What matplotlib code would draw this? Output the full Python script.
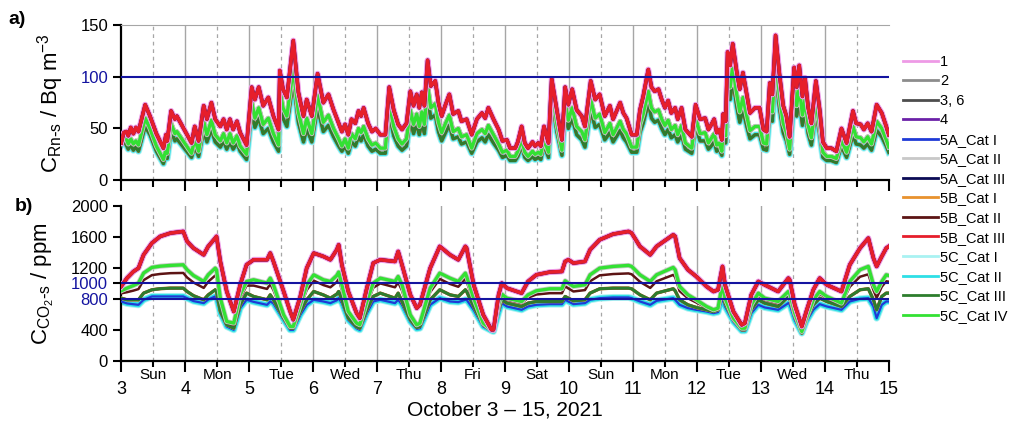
import numpy as np
import matplotlib.pyplot as plt
from matplotlib.lines import Line2D

plt.rcParams['font.family'] = ['Liberation Sans', 'DejaVu Sans']

# ---- panel a: radon, read per day (day-of-October, Bq m-3) ----
rn_day = [3.00, 3.04, 3.08, 3.11, 3.15, 3.19, 3.23, 3.27, 3.375, 3.45, 3.55, 3.66, 3.70, 3.72, 3.78, 3.84, 3.87,
          4.10, 4.15, 4.21, 4.29, 4.34, 4.41, 4.47, 4.55, 4.60, 4.65, 4.70, 4.75, 4.81, 4.86, 4.96,
          5.04, 5.09, 5.15, 5.22, 5.30, 5.38, 5.46, 5.48, 5.53, 5.59, 5.69, 5.77, 5.85, 5.90, 5.98,
          6.07, 6.16, 6.24, 6.32, 6.40, 6.45, 6.50, 6.55, 6.60, 6.66, 6.71, 6.75, 6.79, 6.86, 6.92, 6.98,
          7.05, 7.13, 7.19, 7.26, 7.33, 7.39, 7.46, 7.52, 7.57, 7.62, 7.66, 7.70, 7.74, 7.79, 7.84, 7.91, 7.96,
          8.01, 8.07, 8.13, 8.19, 8.27, 8.32, 8.40, 8.48, 8.56, 8.64, 8.69, 8.74, 8.82, 8.90, 8.96,
          9.03, 9.08, 9.16, 9.20, 9.26, 9.31, 9.36, 9.43, 9.47, 9.52, 9.56, 9.61, 9.68, 9.73, 9.81, 9.89, 9.94, 9.99,
          10.05, 10.12, 10.20, 10.25, 10.34, 10.41, 10.48, 10.56, 10.64, 10.69, 10.80, 10.85, 10.90, 10.98,
          11.06, 11.11, 11.16, 11.24, 11.29, 11.34, 11.40, 11.45, 11.50, 11.55, 11.60, 11.66, 11.70, 11.76, 11.82, 11.92, 11.98,
          12.05, 12.13, 12.18, 12.21, 12.27, 12.31, 12.35, 12.39, 12.41, 12.45, 12.48, 12.52, 12.56, 12.62, 12.67, 12.72, 12.78, 12.83, 12.91, 12.98,
          13.04, 13.09, 13.14, 13.18, 13.23, 13.29, 13.35, 13.40, 13.45, 13.52, 13.56, 13.60, 13.65, 13.69, 13.74, 13.79, 13.86, 13.92, 13.97,
          14.03, 14.10, 14.18, 14.26, 14.34, 14.44, 14.49, 14.56, 14.61, 14.67, 14.73, 14.81, 14.89, 14.96, 15.00]
rn_top = [36, 46, 47, 43, 51, 45, 51, 47, 73, 62, 45, 31, 44, 38, 67, 59, 62,
          36, 52, 38, 72, 59, 75, 59, 52, 59, 49, 59, 49, 57, 46, 34,
          90, 78, 90, 72, 80, 62, 49, 106, 88, 80, 135, 85, 62, 78, 62,
          103, 75, 83, 68, 55, 47, 54, 44, 59, 55, 67, 62, 70, 55, 47, 50,
          44, 44, 90, 68, 54, 49, 55, 86, 72, 83, 70, 85, 72, 116, 91, 96, 75,
          62, 73, 83, 64, 67, 57, 59, 44, 59, 65, 60, 70, 59, 49, 38,
          39, 31, 31, 37, 52, 36, 31, 37, 33, 36, 33, 52, 36, 98, 68, 39, 90, 73,
          88, 68, 62, 52, 96, 78, 83, 62, 72, 59, 75, 65, 60, 44,
          44, 68, 81, 107, 90, 86, 88, 78, 70, 77, 65, 70, 59, 70, 49, 42, 73,
          59, 60, 49, 52, 59, 46, 49, 39, 64, 57, 124, 111, 132, 106, 88, 104, 83, 65, 70, 70,
          49, 47, 94, 83, 140, 103, 72, 62, 42, 109, 90, 111, 81, 99, 70, 55, 96, 68, 37,
          31, 31, 28, 50, 36, 67, 55, 54, 49, 55, 47, 73, 65, 52, 44]
rn_mid = [36, 42, 40, 35, 40, 35, 38, 34, 60, 50, 33, 20, 30, 26, 55, 45, 47,
          26, 40, 28, 57, 44, 58, 44, 38, 45, 36, 45, 36, 43, 33, 25,
          76, 60, 70, 54, 60, 45, 34, 88, 70, 62, 108, 66, 45, 60, 45,
          82, 56, 63, 50, 40, 33, 40, 31, 45, 40, 50, 46, 52, 40, 34, 36,
          31, 31, 75, 52, 40, 35, 40, 68, 54, 64, 52, 66, 54, 92, 70, 74, 56,
          46, 55, 63, 47, 50, 42, 44, 31, 45, 49, 45, 53, 44, 35, 27,
          29, 23, 23, 28, 40, 27, 23, 28, 25, 27, 25, 40, 27, 90, 55, 29, 75, 58,
          70, 52, 47, 39, 78, 60, 64, 46, 55, 44, 57, 49, 45, 32,
          32, 54, 64, 86, 70, 66, 68, 59, 53, 58, 49, 53, 44, 53, 36, 31, 60,
          45, 46, 36, 39, 45, 34, 36, 28, 50, 43, 108, 90, 110, 84, 66, 80, 62, 48, 52, 52,
          36, 35, 76, 66, 118, 82, 55, 46, 30, 92, 72, 90, 63, 78, 53, 41, 76, 52, 27,
          23, 23, 21, 39, 27, 52, 42, 41, 37, 42, 35, 57, 50, 39, 32]
rn_low = [34, 38, 34, 30, 34, 29, 32, 28, 52, 44, 28, 16, 25, 21, 48, 38, 40,
          22, 33, 23, 48, 37, 49, 37, 32, 38, 30, 37, 30, 36, 28, 20,
          66, 51, 60, 45, 50, 37, 28, 78, 60, 52, 96, 56, 37, 50, 37,
          70, 47, 53, 42, 33, 28, 33, 26, 37, 33, 42, 38, 44, 33, 28, 30,
          26, 26, 65, 43, 33, 29, 33, 58, 45, 54, 44, 56, 45, 80, 60, 63, 47,
          38, 46, 53, 40, 42, 35, 37, 26, 37, 41, 37, 44, 36, 29, 22,
          24, 19, 19, 23, 33, 22, 19, 23, 20, 22, 20, 34, 22, 80, 47, 24, 66, 50,
          60, 44, 39, 32, 68, 51, 54, 39, 46, 37, 48, 41, 37, 27,
          27, 46, 55, 75, 60, 56, 58, 50, 44, 49, 41, 44, 37, 44, 30, 26, 52,
          38, 38, 30, 32, 37, 28, 30, 24, 42, 36, 95, 78, 98, 72, 56, 68, 52, 40, 44, 44,
          30, 29, 66, 57, 104, 70, 46, 38, 25, 80, 62, 78, 53, 67, 45, 34, 66, 44, 22,
          19, 19, 17, 33, 22, 44, 35, 34, 31, 35, 29, 48, 42, 33, 27]

# ---- panel b: CO2 (ppm) ----
co2_day = [3.00, 3.09, 3.19, 3.27, 3.35, 3.48, 3.61, 3.77, 3.97,
           4.03, 4.13, 4.29, 4.36, 4.47, 4.49, 4.55, 4.65, 4.76, 4.86, 4.96,
           5.07, 5.28, 5.33, 5.38, 5.54, 5.64, 5.69, 5.80, 5.90,
           6.01, 6.16, 6.27, 6.37, 6.40, 6.45, 6.55, 6.68, 6.73, 6.84, 6.94,
           7.05, 7.28, 7.33, 7.39, 7.52, 7.62, 7.67, 7.83, 7.98,
           8.14, 8.27, 8.38, 8.40, 8.51, 8.66, 8.79, 8.82, 8.90, 8.95,
           9.03, 9.26, 9.36, 9.49, 9.70, 9.89, 9.94, 9.99,
           10.07, 10.25, 10.33, 10.48, 10.69, 10.93, 10.98,
           11.11, 11.27, 11.37, 11.63, 11.66, 11.73, 11.86, 11.99,
           12.15, 12.26, 12.33, 12.40, 12.44, 12.57, 12.70, 12.75, 12.85, 12.96,
           13.06, 13.27, 13.43, 13.45, 13.53, 13.64, 13.71, 13.82, 13.92,
           14.03, 14.26, 14.39, 14.55, 14.68, 14.76, 14.81, 14.89, 14.96, 15.00]
co2_top = [960, 1066, 1150, 1195, 1367, 1518, 1604, 1647, 1668,
           1540, 1453, 1367, 1475, 1582, 1604, 1281, 894, 636, 980, 1238,
           1303, 1303, 1389, 1281, 894, 640, 530, 830, 1195,
           1389, 1346, 1303, 1432, 1496, 1238, 894, 615, 550, 937, 1260,
           1303, 1281, 1410, 1238, 851, 679, 722, 1195, 1475,
           1367, 1303, 1475, 1453, 980, 593, 400, 400, 851, 1002,
           937, 873, 1023, 1109, 1144, 1152, 1281, 1303,
           1260, 1281, 1432, 1561, 1634, 1668, 1647,
           1475, 1367, 1475, 1625, 1604, 1324, 1174, 1088,
           959, 894, 916, 1217, 980, 636, 464, 486, 851, 1023,
           980, 894, 1066, 1045, 722, 443, 636, 916, 1066,
           980, 894, 1238, 1453, 1582, 1324, 1217, 1346, 1453, 1475]
co2_mid = [903, 937, 970, 1002, 1131, 1204, 1220, 1230, 1238,
           1174, 1100, 1023, 1109, 1195, 1174, 808, 507, 486, 851, 1023,
           1045, 1002, 1066, 980, 593, 443, 443, 722, 980,
           1109, 1045, 1023, 1100, 1144, 980, 636, 486, 464, 765, 1002,
           1066, 1023, 1088, 980, 593, 464, 486, 937, 1131,
           1066, 1023, 1131, 1088, 808, 486, 400, 387, 722, 860,
           808, 765, 851, 903, 929, 929, 1032, 1002,
           959, 980, 1109, 1195, 1217, 1230, 1217,
           1109, 1023, 1109, 1204, 1174, 959, 851, 787,
           701, 658, 679, 1002, 808, 550, 421, 421, 722, 873,
           808, 765, 894, 873, 615, 378, 550, 787, 894,
           830, 744, 1023, 1174, 1217, 980, 894, 1023, 1109, 1100]
co2_brown = [870, 885, 905, 925, 1040, 1105, 1120, 1130, 1133,
             1075, 1010, 940, 1020, 1100, 1075, 750, 492, 463, 806, 970,
             970, 927, 990, 912, 578, 435, 435, 692, 912,
             1034, 977, 948, 1016, 1057, 912, 606, 470, 449, 728, 942,
             998, 948, 1013, 905, 571, 452, 471, 885, 1056,
             991, 955, 1056, 1020, 770, 478, 397, 387, 700, 834,
             786, 743, 814, 855, 872, 872, 961, 934,
             894, 912, 1026, 1102, 1119, 1127, 1116,
             1019, 940, 1026, 1108, 1079, 899, 806, 752,
             686, 650, 672, 964, 786, 543, 414, 414, 700, 843,
             786, 743, 872, 850, 600, 371, 543, 764, 864,
             807, 729, 955, 1084, 1116, 912, 811, 955, 1026, 1020]
co2_low = [808, 787, 787, 787, 873, 916, 930, 937, 937,
           894, 840, 787, 850, 916, 894, 636, 464, 421, 722, 873,
           830, 787, 851, 787, 550, 421, 421, 636, 787,
           894, 850, 808, 860, 894, 787, 550, 440, 421, 658, 830,
           873, 808, 873, 765, 529, 430, 443, 787, 916,
           851, 830, 916, 894, 701, 464, 391, 387, 658, 787,
           744, 701, 744, 765, 765, 765, 830, 808,
           774, 787, 873, 929, 937, 937, 929,
           851, 787, 873, 929, 903, 787, 722, 688,
           658, 636, 658, 894, 744, 529, 400, 400, 658, 787,
           744, 701, 830, 808, 572, 357, 529, 722, 808,
           765, 701, 830, 916, 929, 787, 658, 830, 873, 873]
co2_base = [765, 740, 730, 722, 787, 830, 830, 830, 830,
            808, 770, 744, 790, 830, 820, 615, 443, 400, 679, 787,
            760, 722, 765, 740, 529, 400, 400, 593, 722,
            787, 765, 744, 780, 808, 744, 529, 420, 400, 615, 765,
            787, 744, 787, 722, 507, 413, 421, 722, 808,
            765, 757, 787, 787, 658, 443, 387, 378, 615, 744,
            701, 658, 701, 722, 731, 731, 787, 765,
            731, 744, 787, 808, 817, 817, 808,
            765, 722, 774, 808, 787, 722, 679, 658,
            636, 615, 628, 808, 701, 507, 387, 387, 615, 722,
            688, 658, 744, 731, 529, 357, 507, 658, 731,
            701, 658, 765, 800, 808, 701, 550, 722, 765, 765]

days = list(range(3, 16))
weekdays = ['Sun', 'Mon', 'Tue', 'Wed', 'Thu', 'Fri', 'Sat',
            'Sun', 'Mon', 'Tue', 'Wed', 'Thu']

# legend order: label, colour, group, linewidth, zorder
series = [
    ('1',          '#ee9ae6', 'top',   4.2, 20),
    ('2',          '#8c8c8c', 'low',   2.3, 6),
    ('3, 6',       '#4d4d4d', 'low',   2.0, 8),
    ('4',          '#6b21a8', 'top',   2.4, 21),
    ('5A_Cat I',   '#1f3ad6', 'base',  1.6, 3),
    ('5A_Cat II',  '#c8c8c8', 'mid',   3.6, 12),
    ('5A_Cat III', '#0b0b55', 'top',   2.4, 22),
    ('5B_Cat I',   '#e8922e', 'low',   2.4, 7),
    ('5B_Cat II',  '#5c1414', 'brown', 1.8, 11),
    ('5B_Cat III', '#e61e2b', 'top',   2.6, 23),
    ('5C_Cat I',   '#a9f2f2', 'base',  5.0, 1),
    ('5C_Cat II',  '#2edfe6', 'base',  3.6, 2),
    ('5C_Cat III', '#2d7d2d', 'low',   2.0, 9),
    ('5C_Cat IV',  '#33e133', 'mid',   2.4, 14),
]

rn = {'top': rn_top, 'mid': rn_mid, 'brown': rn_mid, 'low': rn_low, 'base': rn_low}
co2 = {'top': co2_top, 'mid': co2_mid, 'brown': co2_brown, 'low': co2_low, 'base': co2_base}

fig = plt.figure(figsize=(10.1, 4.25), dpi=100)
ax_a = fig.add_axes([0.120, 0.576, 0.760, 0.365])
ax_b = fig.add_axes([0.120, 0.151, 0.760, 0.365])

for label, color, group, lw, z in series:
    # brown sits just under the green in panel a, so draw it a bit wider there
    lw_a = 3.2 if group == 'brown' else lw
    ax_a.plot(rn_day, rn[group], color=color, lw=lw_a, zorder=z, solid_joinstyle='round')
    ax_b.plot(co2_day, co2[group], color=color, lw=lw, zorder=z, solid_joinstyle='round')

handles = [Line2D([], [], color=c, lw=2.0) for _, c, _, _, _ in series]

ref_blue = '#1414a0'
ax_a.axhline(100, color=ref_blue, lw=1.5, zorder=25)
ax_b.axhline(1000, color=ref_blue, lw=1.5, zorder=25)
ax_b.axhline(800, color=ref_blue, lw=1.5, zorder=25)

for ax in (ax_a, ax_b):
    for d in days[1:-1]:
        ax.axvline(d, color='#a6a6a6', lw=1.0, zorder=0)
    for d in days[:-1]:
        ax.axvline(d + 0.5, color='#a6a6a6', lw=0.9, ls=(0, (3, 3)), zorder=0)
    ax.set_xlim(3, 15)
    ax.set_xticks(days)
    ax.set_xticks([d + 0.5 for d in days[:-1]], minor=True)
    ax.spines['right'].set_visible(False)
    ax.spines['left'].set_linewidth(1.6)
    ax.spines['bottom'].set_linewidth(1.6)
    ax.tick_params(axis='y', direction='out', length=6, width=1.5, labelsize=12)
    ax.tick_params(axis='x', which='both', direction='out', width=1.5)

ax_a.spines['top'].set_color('#a6a6a6')
ax_b.spines['top'].set_visible(False)

ax_a.set_ylim(0, 150)
ax_a.set_yticks([0, 50, 100, 150])
ax_a.tick_params(axis='x', which='major', length=8, labelbottom=False)
ax_a.tick_params(axis='x', which='minor', length=5, labelbottom=False)
ax_a.get_yticklabels()[2].set_color(ref_blue)

ax_b.set_ylim(0, 2000)
ax_b.set_yticks([0, 400, 800, 1000, 1200, 1600, 2000])
for t in ax_b.get_yticklabels():
    if t.get_text() in ('800', '1000'):
        t.set_color(ref_blue)
ax_b.set_xticklabels([str(d) for d in days])
ax_b.set_xticklabels(weekdays, minor=True)
ax_b.tick_params(axis='x', which='major', length=8, pad=6.5, labelsize=13)
ax_b.tick_params(axis='x', which='minor', length=4, pad=1, labelsize=11)

ax_a.set_ylabel(r'C$_{\mathregular{Rn\text{-}s}}$ / Bq m$^{\mathregular{-3}}$', fontsize=16)
ax_a.yaxis.set_label_coords(-0.072, 0.5)
ax_b.set_ylabel(r'C$_{\mathregular{CO_2\text{-}s}}$ / ppm', fontsize=16)
ax_b.yaxis.set_label_coords(-0.085, 0.5)

fig.text(0.008, 0.955, 'a)', fontsize=14, fontweight='bold', va='center')
fig.text(0.015, 0.515, 'b)', fontsize=14, fontweight='bold', va='center')
fig.text(0.5, 1 - 410 / 425, 'October 3 \u2013 15, 2021', fontsize=15, ha='center', va='center')

fig.legend(handles, [s[0] for s in series], loc='upper left',
           bbox_to_anchor=(0.888, 0.885), frameon=False, fontsize=10.5,
           handlelength=2.4, handletextpad=0.15, labelspacing=0.38, borderaxespad=0)

fig.savefig('out.png', dpi=100)
